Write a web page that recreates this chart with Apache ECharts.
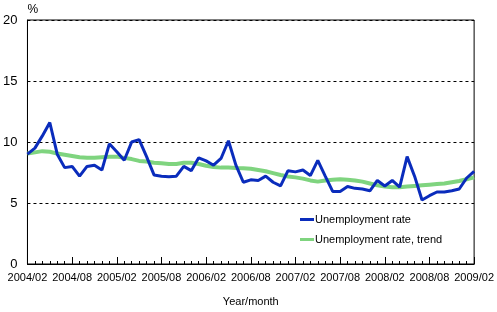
<!DOCTYPE html>
<html>
<head>
<meta charset="utf-8">
<script src="https://cdn.jsdelivr.net/npm/echarts@6/dist/echarts.min.js"></script>
<style>html,body{margin:0;padding:0;background:#fff;}#c{width:497px;height:312px;}</style>
</head>
<body>
<div id="c"></div>
<script>
const months = [
 "2004/02","2004/03","2004/04","2004/05","2004/06","2004/07","2004/08","2004/09","2004/10","2004/11","2004/12","2005/01",
 "2005/02","2005/03","2005/04","2005/05","2005/06","2005/07","2005/08","2005/09","2005/10","2005/11","2005/12","2006/01",
 "2006/02","2006/03","2006/04","2006/05","2006/06","2006/07","2006/08","2006/09","2006/10","2006/11","2006/12","2007/01",
 "2007/02","2007/03","2007/04","2007/05","2007/06","2007/07","2007/08","2007/09","2007/10","2007/11","2007/12","2008/01",
 "2008/02","2008/03","2008/04","2008/05","2008/06","2008/07","2008/08","2008/09","2008/10","2008/11","2008/12","2009/01",
 "2009/02"];
const unemploymentRate = [
 9.0, 9.5, 10.5, 11.6, 9.0, 7.9, 8.0, 7.2, 8.0, 8.1, 7.7, 9.85,
 9.2, 8.5, 10.0, 10.2, 8.8, 7.3, 7.2, 7.15, 7.2, 8.0, 7.65, 8.7,
 8.45, 8.1, 8.65, 10.1, 8.1, 6.7, 6.9, 6.85, 7.2, 6.7, 6.4, 7.65,
 7.55, 7.7, 7.25, 8.5, 7.2, 5.95, 5.95, 6.35, 6.2, 6.15, 6.0, 6.85,
 6.4, 6.85, 6.3, 8.8, 7.2, 5.25, 5.6, 5.9, 5.9, 6.0, 6.15, 7.05,
 7.6];
const unemploymentTrend = [
 9.05, 9.15, 9.25, 9.2, 9.05, 8.95, 8.85, 8.75, 8.7, 8.7, 8.75, 8.8,
 8.8, 8.7, 8.6, 8.45, 8.4, 8.3, 8.25, 8.2, 8.2, 8.3, 8.3, 8.2,
 8.05, 7.95, 7.9, 7.9, 7.87, 7.85, 7.8, 7.7, 7.6, 7.45, 7.3, 7.17,
 7.1, 7.0, 6.85, 6.75, 6.85, 6.9, 6.95, 6.9, 6.85, 6.75, 6.6, 6.45,
 6.35, 6.3, 6.3, 6.35, 6.4, 6.45, 6.5, 6.55, 6.6, 6.7, 6.8, 6.95,
 7.1];
const yTicks = [0, 5, 10, 15, 20];
const seriesNames = ["Unemployment rate", "Unemployment rate, trend"];

const FONT = '"Liberation Sans", Arial, sans-serif';
const chart = echarts.init(document.getElementById('c'), null, {renderer: 'canvas'});
chart.setOption({
  animation: false,
  backgroundColor: '#fff',
  textStyle: {fontFamily: FONT, color: '#000'},
  grid: {left: 25, right: 19, top: 20, bottom: 43, show: true, borderColor: '#000', borderWidth: 1, containLabel: false},
  legend: {
    data: seriesNames,
    orient: 'vertical', left: 300, top: 213,
    itemWidth: 14, itemHeight: 3, itemGap: 7,
    icon: 'rect',
    textStyle: {fontFamily: FONT, fontSize: 11, color: '#000', padding: [0,0,0,-4], lineHeight: 13},
    padding: 0
  },
  xAxis: [{
    type: 'category', data: months, boundaryGap: false,
    axisLine: {lineStyle: {color: '#000', width: 1}},
    axisTick: {show: true, inside: true, length: 3, interval: 0, lineStyle: {color: '#000'}},
    axisLabel: {interval: 5, color: '#000', fontSize: 11, fontFamily: FONT, margin: 8},
    splitLine: {show: false},
    name: 'Year/month', nameLocation: 'middle', nameGap: 32,
    nameTextStyle: {fontSize: 11, fontFamily: FONT, color: '#000'}
  }, {
    type: 'category', data: months, boundaryGap: false, position: 'bottom',
    axisLine: {show: false},
    axisTick: {show: true, inside: true, length: 7, interval: 5, lineStyle: {color: '#000'}},
    axisLabel: {show: false}, splitLine: {show: false}
  }],
  yAxis: {
    type: 'value', min: yTicks[0], max: yTicks[yTicks.length-1], interval: 5,
    axisLine: {show: true, lineStyle: {color: '#000'}},
    axisTick: {show: false},
    axisLabel: {color: '#000', fontSize: 13, fontFamily: FONT, margin: 10},
    splitLine: {show: true, lineStyle: {color: '#000', type: [3, 3], width: 1}},
    name: '%', nameLocation: 'end', nameGap: 4,
    nameTextStyle: {align: 'left', verticalAlign: 'bottom', fontSize: 12, fontFamily: FONT, color: '#000'}
  },
  series: [{
    name: seriesNames[1], type: 'line', data: unemploymentTrend, symbol: 'none',
    lineStyle: {color: '#7fd47f', width: 4}, itemStyle: {color: '#7fd47f'}, z: 2
  }, {
    name: seriesNames[0], type: 'line', data: unemploymentRate, symbol: 'none',
    lineStyle: {color: '#0a2cbc', width: 3}, itemStyle: {color: '#0a2cbc'}, z: 3
  }]
});
</script>
</body>
</html>
